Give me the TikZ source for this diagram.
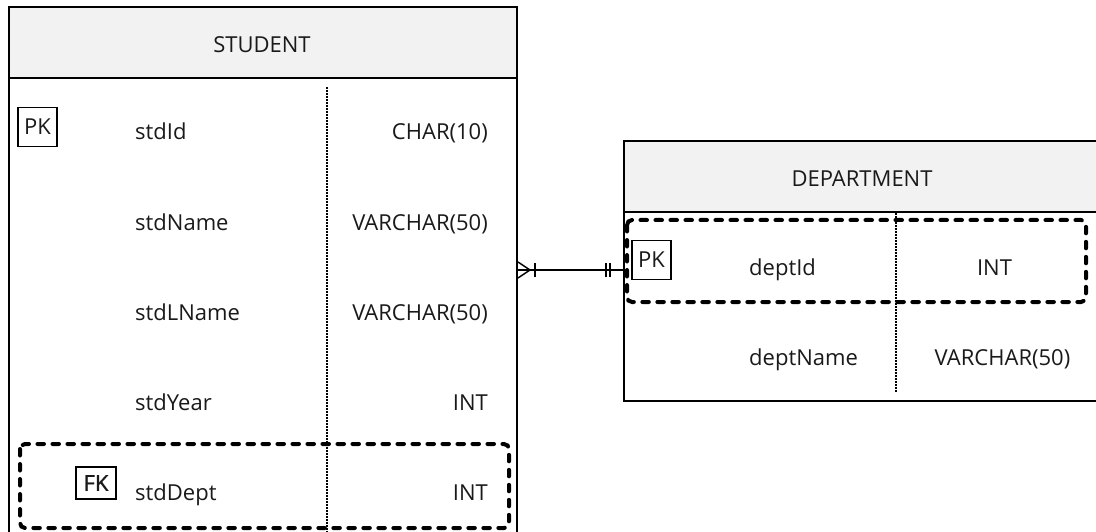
\documentclass[tikz,border=0pt]{standalone}
\usepackage{fontspec}
\setmainfont{Open Sans}
\newfontfamily\fkfont[FakeBold=1.2]{Open Sans}
\definecolor{hdrgray}{HTML}{F2F2F2}
\definecolor{txt}{HTML}{1A1A1A}
\begin{document}
\begin{tikzpicture}[x=1pt,y=-1pt,
  font=\fontsize{22}{26}\selectfont,
  every node/.style={text=txt},
  boxline/.style={draw=black, line width=2pt},
  header/.style={boxline, fill=hdrgray, inner sep=0pt, anchor=north west},
  body/.style={boxline, fill=white, inner sep=0pt, anchor=north west},
  keybox/.style={draw=black, line width=1.3pt, inner sep=0pt, minimum width=39pt, minimum height=39pt},
  namecell/.style={anchor=base west, inner sep=0pt},
  typecell/.style={anchor=base east, inner sep=0pt},
  typemid/.style={anchor=base, inner sep=0pt},
  colsep/.style={draw=black, line width=1.6pt, dash pattern=on 1.7pt off 1.3pt},
  keyframe/.style={draw=black, line width=4pt, dash pattern=on 6.5pt off 8.5pt, line cap=round, rounded corners=5pt},
  relline/.style={draw=black, line width=1.5pt}
]
\useasboundingbox (0,0) rectangle (1096,532);
\fill[white] (0,0) rectangle (1096,532);

% ---------------- STUDENT ----------------
\node[body, minimum width=508pt, minimum height=520pt] (stuBody) at (8,77) {};
\node[header, minimum width=508pt, minimum height=71pt] (stuHead) at (8,6) {};
\node[typemid] (stuTitle) at (262,53) {STUDENT};
\coordinate (stuSepTop) at (327,87);
\draw[colsep] (stuSepTop) -- (stuBody.south -| stuSepTop);

\node[keybox] (pk1) at (37.5,127) {PK};
\node[namecell] (n1) at (135,140) {stdId};
\node[typecell] (t1) at (488,140) {CHAR(10)};
\node[namecell] (n2) at (135,230) {stdName};
\node[typecell] (t2) at (488,230) {VARCHAR(50)};
\node[namecell] (n3) at (135,320) {stdLName};
\node[typecell] (t3) at (488,320) {VARCHAR(50)};
\node[namecell] (n4) at (135,410) {stdYear};
\node[typecell] (t4) at (488,410) {INT};
\node[keybox, minimum width=40pt, minimum height=32pt] (fk) at (96,483) {\fkfont FK};
\node[namecell] (n5) at (135,500) {stdDept};
\node[typecell] (t5) at (488,500) {INT};
\draw[keyframe] (20,444) rectangle (509,528);

% ---------------- DEPARTMENT ----------------
\node[body, minimum width=500pt, minimum height=189pt] (depBody) at (623,211) {};
\node[header, minimum width=500pt, minimum height=71pt] (depHead) at (623,140) {};
\node[typemid] (depTitle) at (862,187) {DEPARTMENT};
\coordinate (depSepTop) at (896,213);
\coordinate (depSepBot) at (896,392);
\draw[colsep] (depSepTop) -- (depSepBot);

\node[keybox] (pk2) at (651.5,260) {PK};
\node[namecell] (d1) at (749,275) {deptId};
\node[typemid] (dt1) at (994.5,275) {INT};
\node[namecell] (d2) at (749,365) {deptName};
\node[typemid] (dt2) at (1002.5,365) {VARCHAR(50)};
\draw[keyframe] (627,220) rectangle (1086,302);

% ---------------- relationship ----------------
\coordinate (relrow) at (0,270);
\coordinate (relA) at (stuBody.east |- relrow);
\coordinate (relB) at (depBody.west |- relrow);
\draw[relline] (relA) -- (relB);
% crow's foot (many) at STUDENT
\draw[relline] ([yshift=-8pt]relA) -- ([xshift=12pt]relA) -- ([yshift=8pt]relA);
\draw[relline] ([xshift=17pt,yshift=-7pt]relA) -- ([xshift=17pt,yshift=7pt]relA);
% one-and-only-one at DEPARTMENT
\draw[relline] ([xshift=-17pt,yshift=-7pt]relB) -- ([xshift=-17pt,yshift=7pt]relB);
\draw[relline] ([xshift=-13pt,yshift=-7pt]relB) -- ([xshift=-13pt,yshift=7pt]relB);
\end{tikzpicture}
\end{document}
